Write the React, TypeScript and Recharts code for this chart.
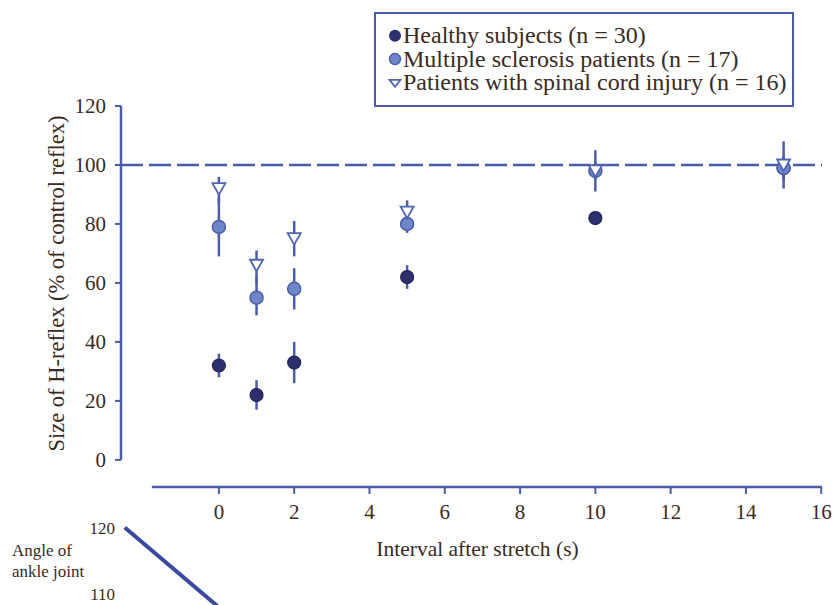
import React from 'react';
import { ComposedChart, LineChart, Line, Scatter, XAxis, YAxis, ErrorBar, ReferenceLine, Label } from 'recharts';

// H-reflex size (% of control) at each interval after stretch
const intervals = [0, 1, 2, 5, 10, 15];

const healthyMean = [32, 22, 33, 62, 82, 99];
const healthyLow = [28, 17, 26, 58, 80, 95];
const healthyHigh = [36, 27, 40, 66, 84, 103];

const msMean = [79, 55, 58, 80, 98, 99];
const msLow = [69, 49, 51, 77, 95, 96];
const msHigh = [89, 62, 65, 82, 101, 102];

const sciMean = [92, 66, 75, 84, 98, 100];
const sciLow = [87, 60, 69, 80, 91, 92];
const sciHigh = [96, 71, 81, 88, 105, 108];

const seriesNames = [
  'Healthy subjects (n = 30)',
  'Multiple sclerosis patients (n = 17)',
  'Patients with spinal cord injury (n = 16)',
];

const xTicks = [0, 2, 4, 6, 8, 10, 12, 14, 16];
const yTicks = [0, 20, 40, 60, 80, 100, 120];

// lower panel (ankle angle trace, cropped at the bottom)
const angleTime = [-2.5, 0];
const angleValues = [120, 108];
const angleTicks = [110, 120];

const AXIS = '#4e5ca8';
const NAVY = '#2c2f6b';
const MS_FILL = '#6f87c9';
const TEXT = '#3a2a22';
const FONT = '"Liberation Serif", "DejaVu Serif", serif';

const build = (mean: number[], low: number[], high: number[]) =>
  intervals.map((x, i) => ({ x, y: mean[i], err: [mean[i] - low[i], high[i] - mean[i]] }));

const healthyData = build(healthyMean, healthyLow, healthyHigh);
const msData = build(msMean, msLow, msHigh);
const sciData = build(sciMean, sciLow, sciHigh);
const angleData = angleTime.map((t, i) => ({ t, angle: angleValues[i] }));

const healthyShape = (p: any) => (
  <circle cx={p.cx} cy={p.cy} r={6.5} fill={NAVY} stroke="#23265a" strokeWidth={1.2} />
);
const msShape = (p: any) => (
  <circle cx={p.cx} cy={p.cy} r={6.5} fill={MS_FILL} stroke="#4a5ca6" strokeWidth={1.5} />
);
const sciShape = (p: any) => (
  <polygon
    points={`${p.cx - 6.5},${p.cy - 5.5} ${p.cx + 6.5},${p.cy - 5.5} ${p.cx},${p.cy + 6}`}
    fill="#ffffff"
    stroke="#5066b0"
    strokeWidth={1.8}
  />
);

const YTitle = ({ viewBox }: any) => {
  const x = viewBox.x + 3;
  const y = viewBox.y + viewBox.height / 2 - 13;
  return (
    <text x={x} y={y} transform={`rotate(-90, ${x}, ${y})`} textAnchor="middle" fill={TEXT} fontSize={22.5} fontFamily={FONT}>
      Size of H-reflex (% of control reflex)
    </text>
  );
};

const LINE_GAP = 23.3;

const LegendBox = () => (
  <svg width={834} height={120} style={{ position: 'absolute', left: 0, top: 0 }}>
    <rect x={375} y={13} width={418} height={93} fill="none" stroke={AXIS} strokeWidth={2} />
    <circle cx={395} cy={35.8} r={6} fill={NAVY} />
    <circle cx={395} cy={35.8 + LINE_GAP} r={5.5} fill={MS_FILL} stroke="#4a5ca6" strokeWidth={1.5} />
    <polygon
      points={`389.5,${33.3 + 2 * LINE_GAP} 400.5,${33.3 + 2 * LINE_GAP} 395,${40.3 + 2 * LINE_GAP}`}
      fill="#fff"
      stroke="#5066b0"
      strokeWidth={1.8}
    />
    <text x={403} y={43.3} fill={TEXT} fontSize={24} fontFamily={FONT}>
      {seriesNames.map((name, i) => (
        <tspan key={name} x={403} dy={i === 0 ? 0 : LINE_GAP}>{name}</tspan>
      ))}
    </text>
  </svg>
);

export default function App() {
  return (
    <div style={{ position: 'absolute', left: 0, top: 0, width: 834, height: 605, overflow: 'hidden', background: '#fff' }}>
      <ComposedChart width={834} height={605} margin={{ top: 106, right: 12, bottom: 48, left: 61 }} style={{ fontFamily: FONT }}>
        <XAxis
          type="number"
          dataKey="x"
          domain={[-2.6, 16.02]}
          ticks={xTicks}
          allowDataOverflow
          axisLine={false}
          tickLine={{ stroke: AXIS, strokeWidth: 2 }}
          tickSize={7}
          tickMargin={10}
          tick={{ fill: TEXT, fontSize: 21, fontFamily: FONT }}
          height={70}
        >
          <Label value="Interval after stretch (s)" position="insideBottom" offset={1} dx={6} fill={TEXT} fontSize={21.5} fontFamily={FONT} />
        </XAxis>
        <YAxis
          type="number"
          dataKey="y"
          domain={[-9.2, 120]}
          ticks={yTicks}
          allowDataOverflow
          axisLine={false}
          tickLine={{ stroke: AXIS, strokeWidth: 2 }}
          tickSize={6}
          tickMargin={9}
          tick={{ fill: TEXT, fontSize: 21, fontFamily: FONT }}
          width={60}
        >
          <Label content={<YTitle />} />
        </YAxis>
        <ReferenceLine segment={[{ x: -2.6, y: 0 }, { x: -2.6, y: 120 }]} stroke={AXIS} strokeWidth={2.5} />
        <ReferenceLine segment={[{ x: -1.78, y: -9.2 }, { x: 16.02, y: -9.2 }]} stroke={AXIS} strokeWidth={2.5} />
        <ReferenceLine y={100} stroke={AXIS} strokeWidth={2.5} strokeDasharray="22 6" />
        <Scatter data={healthyData} dataKey="y" shape={healthyShape} isAnimationActive={false}>
          <ErrorBar dataKey="err" direction="y" width={0} stroke={AXIS} strokeWidth={2.5} />
        </Scatter>
        <Scatter data={msData} dataKey="y" shape={msShape} isAnimationActive={false}>
          <ErrorBar dataKey="err" direction="y" width={0} stroke={AXIS} strokeWidth={2.5} />
        </Scatter>
        <Scatter data={sciData} dataKey="y" shape={sciShape} isAnimationActive={false}>
          <ErrorBar dataKey="err" direction="y" width={0} stroke={AXIS} strokeWidth={2.5} />
        </Scatter>
      </ComposedChart>

      <LegendBox />

      <div style={{ position: 'absolute', left: 0, top: 500, pointerEvents: 'none' }}>
        <LineChart width={834} height={200} data={angleData} margin={{ top: 0, right: 12, bottom: 0, left: 61 }}>
          <XAxis type="number" dataKey="t" domain={[-2.6, 16.02]} hide allowDataOverflow />
          <YAxis
            type="number"
            domain={[94.06, 124.14]}
            ticks={angleTicks}
            allowDataOverflow
            axisLine={false}
            tickLine={false}
            tickSize={0}
            tickMargin={6}
            tick={{ fill: TEXT, fontSize: 17, fontFamily: FONT }}
            width={60}
          />
          <Line dataKey="angle" stroke="#3b4a9c" strokeWidth={4} dot={false} isAnimationActive={false} />
        </LineChart>
      </div>

      <div style={{ position: 'absolute', left: 12, top: 540, fontFamily: FONT, fontSize: 17, lineHeight: '21px', color: TEXT }}>
        Angle of<br />ankle joint
      </div>
    </div>
  );
}
